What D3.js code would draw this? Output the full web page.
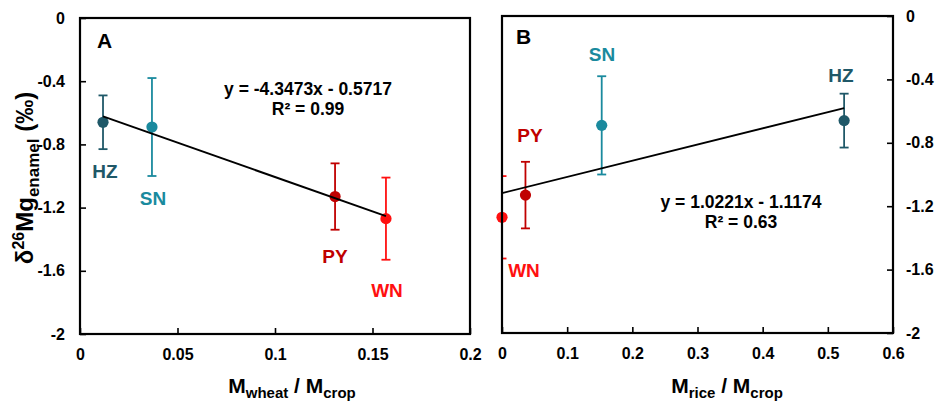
<!DOCTYPE html>
<html>
<head>
<meta charset="utf-8">
<script src="https://cdn.jsdelivr.net/npm/d3@7"></script>
<style>
  html, body { margin: 0; padding: 0; background: #fff; }
  svg text { font-family: "Liberation Sans", Arial, sans-serif; font-weight: bold; }
</style>
</head>
<body>
<svg id="chart" width="938" height="403"></svg>
<script>
// Sampling sites and tooth-enamel Mg isotope values (mean ± 1 SD, ‰)
const sites = ["HZ", "SN", "PY", "WN"];
const enamelMean = [-0.66, -0.69, -1.13, -1.27];
const enamelErr = [0.17, 0.31, 0.21, 0.26];
const siteColors = ["#1f5868", "#1a8a9e", "#c00000", "#ff1010"];

// Crop proportions for each site
const wheatFraction = [0.0118, 0.0369, 0.1308, 0.1569];
const riceFraction = [0.525, 0.153, 0.036, 0.0];

// Linear fits (slope, intercept, R²)
const wheatFit = [-4.3473, -0.5717, 0.99];
const riceFit = [1.0221, -1.1174, 0.63];

// Tick values
const yTicks = [0, -0.4, -0.8, -1.2, -1.6, -2];
const wheatTicks = [0, 0.05, 0.1, 0.15, 0.2];
const riceTicks = [0, 0.1, 0.2, 0.3, 0.4, 0.5, 0.6];

const svg = d3.select("#chart");
const fmt = v => String(+v.toFixed(2));

function drawPanel(opt) {
  const x = d3.scaleLinear().domain(opt.xDomain).range([opt.left, opt.right]);
  const y = d3.scaleLinear().domain([0, -2]).range([opt.top, opt.bottom]);
  const g = svg.append("g");

  const clipId = "clip-" + opt.letter;
  svg.append("clipPath").attr("id", clipId)
    .append("rect")
    .attr("x", opt.left).attr("y", opt.top)
    .attr("width", opt.right - opt.left).attr("height", opt.bottom - opt.top);

  // x axis (ticks pointing inward)
  const xAxis = d3.axisBottom(x).tickValues(opt.xTicks).tickFormat(fmt)
    .tickSizeInner(-6).tickSizeOuter(0).tickPadding(15);
  const gx = g.append("g").attr("transform", `translate(0,${opt.bottom})`).call(xAxis);
  gx.select(".domain").remove();
  gx.selectAll(".tick line").attr("stroke", "#000").attr("stroke-width", 1.6);
  gx.selectAll(".tick text").attr("fill", "#000").style("font-size", "16px");

  // y axis on the chosen side
  const yAxis = (opt.ySide === "left" ? d3.axisLeft(y) : d3.axisRight(y))
    .tickValues(yTicks).tickFormat(fmt)
    .tickSizeInner(-6).tickSizeOuter(0).tickPadding(opt.ySide === "left" ? 15 : 13);
  const yPos = opt.ySide === "left" ? opt.left : opt.right;
  const gy = g.append("g").attr("transform", `translate(${yPos},0)`).call(yAxis);
  gy.select(".domain").remove();
  gy.selectAll(".tick line").attr("stroke", "#000").attr("stroke-width", 1.6);
  gy.selectAll(".tick text").attr("fill", "#000").style("font-size", "16px");

  // error bars
  const eb = g.append("g").attr("clip-path", `url(#${clipId})`);
  sites.forEach((s, i) => {
    const cx = x(opt.xs[i]);
    const y0 = y(enamelMean[i] + enamelErr[i]);
    const y1 = y(enamelMean[i] - enamelErr[i]);
    const c = siteColors[i];
    eb.append("line").attr("x1", cx).attr("x2", cx).attr("y1", y0).attr("y2", y1)
      .attr("stroke", c).attr("stroke-width", 1.8);
    [y0, y1].forEach(yy => {
      eb.append("line").attr("x1", cx - 4.5).attr("x2", cx + 4.5).attr("y1", yy).attr("y2", yy)
        .attr("stroke", c).attr("stroke-width", 1.8);
    });
  });

  // points
  g.selectAll("circle.pt").data(sites).enter().append("circle")
    .attr("class", "pt")
    .attr("cx", (d, i) => x(opt.xs[i]))
    .attr("cy", (d, i) => y(enamelMean[i]))
    .attr("r", 5.6)
    .attr("fill", (d, i) => siteColors[i]);

  // fitted line across the data range
  const xmin = d3.min(opt.xs), xmax = d3.max(opt.xs);
  const fy = v => opt.fit[0] * v + opt.fit[1];
  g.append("line")
    .attr("x1", x(xmin)).attr("y1", y(fy(xmin)))
    .attr("x2", x(xmax)).attr("y2", y(fy(xmax)))
    .attr("stroke", "#000").attr("stroke-width", 1.9);

  // frame
  g.append("rect")
    .attr("x", opt.left).attr("y", opt.top)
    .attr("width", opt.right - opt.left).attr("height", opt.bottom - opt.top)
    .attr("fill", "none").attr("stroke", "#000").attr("stroke-width", 2.2);

  // site labels
  sites.forEach((s, i) => {
    g.append("text")
      .attr("x", opt.labelPos[i][0]).attr("y", opt.labelPos[i][1])
      .attr("text-anchor", "middle")
      .attr("fill", siteColors[i])
      .style("font-size", "19px")
      .text(s);
  });

  // panel letter
  g.append("text").attr("x", opt.letterPos[0]).attr("y", opt.letterPos[1])
    .style("font-size", "21px").attr("fill", "#000").text(opt.letter);

  // equation
  const sign = opt.fit[1] < 0 ? " - " : " + ";
  g.append("text").attr("x", opt.eqPos[0]).attr("y", opt.eqPos[1])
    .attr("text-anchor", "middle").style("font-size", "17.5px").attr("fill", "#000")
    .text(`y = ${opt.fit[0].toFixed(4)}x${sign}${Math.abs(opt.fit[1]).toFixed(4)}`);
  g.append("text").attr("x", opt.eqPos[0]).attr("y", opt.eqPos[1] + 20)
    .attr("text-anchor", "middle").style("font-size", "17.5px").attr("fill", "#000")
    .text(`R² = ${opt.fit[2].toFixed(2)}`);

  // x axis title
  const t = g.append("text").attr("x", opt.xTitleX).attr("y", 393)
    .attr("text-anchor", "middle").style("font-size", "21px").attr("fill", "#000");
  t.append("tspan").text("M");
  t.append("tspan").attr("dy", 5).style("font-size", "15px").text(opt.crop);
  t.append("tspan").attr("dy", -5).text(" / M");
  t.append("tspan").attr("dy", 5).style("font-size", "15px").text("crop");
}

drawPanel({
  letter: "A", letterPos: [97, 48],
  xDomain: [0, 0.2], xTicks: wheatTicks, xs: wheatFraction, fit: wheatFit,
  left: 80, right: 470, top: 18, bottom: 334, ySide: "left",
  labelPos: [[105, 178], [153, 205], [335, 263], [387, 297]],
  eqPos: [308, 95], crop: "wheat", xTitleX: 292
});

drawPanel({
  letter: "B", letterPos: [516, 44],
  xDomain: [0, 0.6], xTicks: riceTicks, xs: riceFraction, fit: riceFit,
  left: 502, right: 893, top: 16, bottom: 333, ySide: "right",
  labelPos: [[841, 82], [602, 61], [530, 142], [524, 277]],
  eqPos: [741, 208], crop: "rice", xTitleX: 727
});

// shared y axis title
const yt = svg.append("text")
  .attr("transform", "translate(33,178) rotate(-90)")
  .attr("text-anchor", "middle").style("font-size", "24px").attr("fill", "#000");
yt.append("tspan").text("δ");
yt.append("tspan").attr("dy", -9).style("font-size", "16px").text("26");
yt.append("tspan").attr("dy", 9).text("Mg");
yt.append("tspan").attr("dy", 6).style("font-size", "17px").text("enamel");
yt.append("tspan").attr("dy", -6).text(" (‰)");
</script>
</body>
</html>
